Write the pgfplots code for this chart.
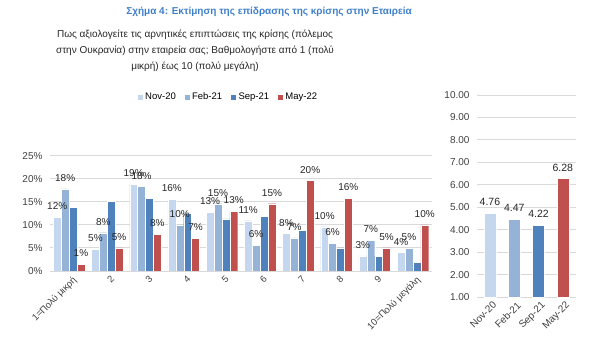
\documentclass[border=0pt]{standalone}
\usepackage{fontspec}
\setmainfont{Liberation Sans}
\usepackage{pgfplots}
\pgfplotsset{compat=1.18}
\definecolor{cNov}{HTML}{C5D7EE}
\definecolor{cFeb}{HTML}{95B3D7}
\definecolor{cSep}{HTML}{4F81BD}
\definecolor{cMay}{HTML}{C0504D}
\definecolor{titleblue}{HTML}{3F7FC8}
\definecolor{tickgray}{HTML}{404040}
\definecolor{gridgray}{HTML}{D9D9D9}

\pgfplotstableread{
x nov feb sep may
0 11.6 17.8 13.8 1.4
1 4.7 8.3 15.1 5.0
2 18.8 18.3 15.7 7.9
3 15.6 10.0 12.6 7.1
4 12.8 14.6 11.3 12.9
5 10.9 5.6 11.9 14.6
6 8.1 7.2 8.8 19.6
7 9.6 6.0 5.0 15.8
8 3.3 6.7 3.2 5.0
9 4.0 4.9 1.9 10.0
}\dist

\begin{document}
\begin{tikzpicture}[x=1pt,y=1pt]
\useasboundingbox (0,0) rectangle (600,355);
\node[font=\bfseries\fontsize{10}{12}\selectfont, text=titleblue] at (269,343) {Σχήμα 4: Εκτίμηση της επίδρασης της κρίσης στην Εταιρεία};
\node[align=center, font=\fontsize{10}{16}\selectfont, text=black!85] at (195,304) {Πως αξιολογείτε τις αρνητικές επιπτώσεις της κρίσης (πόλεμος\\στην Ουκρανία) στην εταιρεία σας; Βαθμολογήστε από 1 (πολύ\\μικρή) έως 10 (πολύ μεγάλη)};

\begin{axis}[
  at={(50pt,84pt)}, anchor=south west, scale only axis,
  width=382pt, height=115.3pt,
  ybar=0pt, bar width=7.9pt,
  xmin=-0.5, xmax=9.5, ymin=0, ymax=25,
  ytick={0,5,10,15,20,25},
  yticklabel={\pgfmathprintnumber{\tick}\%},
  xtick=data,
  xticklabels={1=Πολύ μικρή,2,3,4,5,6,7,8,9,10=Πολύ μεγάλη},
  x tick label style={rotate=45, anchor=north east, font=\fontsize{9.5}{10}\selectfont, text=tickgray, inner sep=1pt, yshift=-4pt},
  y tick label style={font=\fontsize{10}{11}\selectfont, text=tickgray},
  /pgf/number format/assume math mode=true,
  axis line style={draw=none},
  major tick length=0pt,
  ymajorgrids, grid style={gridgray, line width=0.9pt},
  yticklabel style={xshift=-4pt},
  legend columns=4,
  legend style={draw=none, fill=none, at={(0.466,1.509)}, anchor=center, font=\fontsize{9.5}{10}\selectfont, /tikz/every even column/.append style={column sep=6pt}},
  legend image code/.code={\fill[#1] (0pt,-3pt) rectangle (6pt,3pt);},
  every node near coord/.append style={font=\fontsize{10}{11}\selectfont, text=black!85, yshift=4pt},
  nodes near coords={\pgfmathprintnumber[fixed,precision=0]{\pgfplotspointmeta}\%},
]
\addplot[fill=cNov, draw=white, line width=0.3pt] table[x=x,y=nov]{\dist};
\addplot[fill=cFeb, draw=white, line width=0.3pt] table[x=x,y=feb]{\dist};
\addplot[fill=cSep, draw=white, line width=0.3pt, nodes near coords={}] table[x=x,y=sep]{\dist};
\addplot[fill=cMay, draw=white, line width=0.3pt] table[x=x,y=may]{\dist};
\legend{Nov-20,Feb-21,Sep-21,May-22}
\end{axis}

\begin{axis}[
  at={(477pt,57.7pt)}, anchor=south west, scale only axis,
  width=99pt, height=202.3pt,
  ybar, bar width=12pt,
  xmin=-0.53, xmax=3.54, ymin=1, ymax=10,
  ytick={1,2,...,10},
  yticklabel={\pgfmathprintnumber[fixed,fixed zerofill,precision=2]{\tick}},
  xtick={0,1,2,3},
  xticklabels={Nov-20,Feb-21,Sep-21,May-22},
  x tick label style={rotate=45, anchor=north east, font=\fontsize{10}{11}\selectfont, text=tickgray, inner sep=1pt, yshift=-3pt},
  y tick label style={font=\fontsize{10}{11}\selectfont, text=tickgray, xshift=-4pt},
  /pgf/number format/assume math mode=true,
  axis line style={draw=none},
  major tick length=0pt,
  ymajorgrids, grid style={gridgray, line width=0.9pt},
  nodes near coords={\pgfmathprintnumber[fixed,fixed zerofill,precision=2]{\pgfplotspointmeta}},
  every node near coord/.append style={font=\fontsize{10.5}{11}\selectfont, text=black!85, yshift=4pt},
]
\addplot[draw=white, line width=0.3pt, fill=cNov, bar shift=0pt] coordinates {(0,4.76)};
\addplot[draw=white, line width=0.3pt, fill=cFeb, bar shift=0pt] coordinates {(1,4.47)};
\addplot[draw=white, line width=0.3pt, fill=cSep, bar shift=0pt] coordinates {(2,4.22)};
\addplot[draw=white, line width=0.3pt, fill=cMay, bar shift=0pt] coordinates {(3,6.28)};
\end{axis}
\end{tikzpicture}
\end{document}
